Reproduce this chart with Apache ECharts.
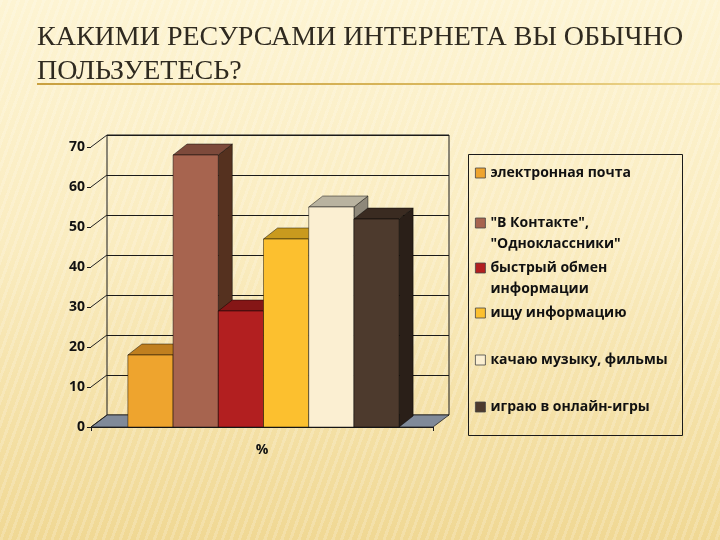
<!DOCTYPE html>
<html>
<head>
<meta charset="utf-8">
<script src="https://cdn.jsdelivr.net/npm/echarts@6/dist/echarts.min.js"></script>
<style>
  html, body { margin: 0; padding: 0; }
  body {
    width: 720px; height: 540px; overflow: hidden;
    background:
      repeating-linear-gradient(110deg, rgba(255,255,255,0.18) 0 3px, rgba(255,255,255,0) 3px 8px),
      linear-gradient(180deg, #fdf4d3 0%, #faecc0 45%, #f0d894 100%);
  }
  #chart { width: 720px; height: 540px; }
</style>
</head>
<body>
<div id="chart"></div>
<script>
const categories = ["%"];
const seriesNames = [
  "электронная почта",
  "\"В Контакте\",\n\"Одноклассники\"",
  "быстрый обмен\nинформации",
  "ищу информацию",
  "качаю музыку, фильмы",
  "играю в онлайн-игры",
];
const seriesValues = [18, 68, 29, 47, 55, 52];
const yTicks = [0, 10, 20, 30, 40, 50, 60, 70];

const frontColors = ["#eea42e", "#a7644f", "#b21f20", "#fcc02f", "#fbefd2", "#4d3a2d"];
const topColors = ["#c07f1f", "#7d4a3b", "#851616", "#c99a1e", "#b9b3a0", "#3a2b21"];
const sideColors = ["#9c6516", "#55311f", "#641010", "#a07a14", "#8e887a", "#2a1f18"];

// legend rows: center of the first text line
const legendRowY = [173, 223, 268, 313, 360, 407];

const DEPTH_X = 16, DEPTH_Y = -12;  // wall depth
const BAR_DX = 14, BAR_DY = -11;    // bar depth
const BAR_SHARE = 0.1322;
const LEGEND_LINE = 21;

const chart = echarts.init(document.getElementById("chart"));

function barRenderer(idx) {
  return function (params, api) {
    const base = api.coord([api.value(0), 0]);
    const top = api.coord([api.value(0), api.value(1)]);
    const band = api.size([1, 0])[0];
    const w = band * BAR_SHARE;
    const x0 = base[0] - (w * seriesValues.length) / 2 + idx * w + 1.5;
    const ty = top[1], by = base[1];
    const stroke = { stroke: "rgba(0,0,0,0.65)", lineWidth: 0.7 };
    return {
      type: "group",
      children: [
        {
          type: "polygon",
          shape: { points: [[x0 + w, ty], [x0 + w + BAR_DX, ty + BAR_DY], [x0 + w + BAR_DX, by + BAR_DY], [x0 + w, by]] },
          style: Object.assign({ fill: sideColors[idx] }, stroke),
        },
        {
          type: "polygon",
          shape: { points: [[x0, ty], [x0 + BAR_DX, ty + BAR_DY], [x0 + w + BAR_DX, ty + BAR_DY], [x0 + w, ty]] },
          style: Object.assign({ fill: topColors[idx] }, stroke),
        },
        {
          type: "rect",
          shape: { x: x0, y: ty, width: w, height: by - ty },
          style: Object.assign({ fill: frontColors[idx] }, stroke),
        },
      ],
    };
  };
}

function floorRenderer(params, api) {
  const cs = params.coordSys;
  const by = cs.y + cs.height;
  const left = cs.x, right = cs.x + cs.width;
  return {
    type: "polygon",
    shape: { points: [[left, by], [right, by], [right + DEPTH_X, by + DEPTH_Y], [left + DEPTH_X, by + DEPTH_Y]] },
    style: { fill: "#808a99", stroke: "#222", lineWidth: 0.8 },
  };
}

function slantTickRenderer(params, api) {
  const cs = params.coordSys;
  const p = api.coord([categories[0], api.value(0)]);
  return {
    type: "line",
    shape: { x1: cs.x, y1: p[1], x2: cs.x + DEPTH_X, y2: p[1] + DEPTH_Y },
    style: { stroke: "#222", lineWidth: 1 },
  };
}

const labelFont = { fontFamily: "Open Sans", fontWeight: "bold", fontSize: 14, color: "#111" };

const legends = seriesNames.map((name, i) => {
  const twoLine = name.indexOf("\n") >= 0;
  // item box is as tall as its text; two-line names get an empty first line
  const rows = twoLine ? 3 : 1;
  return {
    show: true,
    data: [name],
    orient: "vertical",
    left: 475,
    top: legendRowY[i] - (rows * LEGEND_LINE) / 2,
    padding: 0,
    icon: "rect",
    itemWidth: 10,
    itemHeight: 10,
    selectedMode: false,
    formatter: twoLine ? (n) => "\n" + n : "{name}",
    itemStyle: { borderColor: "#444", borderWidth: 0.8 },
    textStyle: Object.assign({}, labelFont, { lineHeight: LEGEND_LINE }),
  };
});

const series = [
  {
    type: "custom",
    name: "floor",
    xAxisIndex: 0, yAxisIndex: 0,
    renderItem: floorRenderer,
    data: [[categories[0], 0]],
    silent: true,
    z: 1,
  },
  {
    type: "custom",
    name: "ticks",
    xAxisIndex: 0, yAxisIndex: 0,
    renderItem: slantTickRenderer,
    data: yTicks.map((v) => [v]),
    encode: { y: 0 },
    silent: true,
    z: 1,
  },
];

seriesNames.forEach((name, i) => {
  series.push({
    type: "custom",
    name: name,
    xAxisIndex: 0, yAxisIndex: 0,
    renderItem: barRenderer(i),
    itemStyle: { color: frontColors[i] },
    data: [[categories[0], seriesValues[i]]],
    encode: { x: 0, y: 1 },
    z: 3,
  });
});

chart.setOption({
  backgroundColor: "transparent",
  animation: false,
  title: {
    text: "КАКИМИ РЕСУРСАМИ ИНТЕРНЕТА ВЫ ОБЫЧНО\nПОЛЬЗУЕТЕСЬ?",
    left: 37,
    top: 21,
    padding: 0,
    textStyle: {
      fontFamily: "Liberation Serif",
      fontWeight: "normal",
      fontSize: 28,
      lineHeight: 34,
      color: "#2f2a20",
    },
  },
  legend: legends,
  grid: [
    { left: 91, top: 147, width: 342, height: 280, containLabel: false },
    { left: 107, top: 135, width: 342, height: 280, show: true, borderColor: "#1a1a1a", borderWidth: 1, backgroundColor: "transparent" },
  ],
  xAxis: [
    {
      type: "category",
      gridIndex: 0,
      data: categories,
      axisLine: { show: true, lineStyle: { color: "#1a1a1a", width: 1 } },
      axisTick: { show: true, length: 4, lineStyle: { color: "#1a1a1a" } },
      axisLabel: Object.assign({ margin: 16 }, labelFont),
    },
    {
      type: "category",
      gridIndex: 1,
      data: categories,
      show: false,
    },
  ],
  yAxis: [
    {
      type: "value",
      gridIndex: 0,
      min: 0, max: 70, interval: 10,
      axisLine: { show: false },
      axisTick: { show: true, length: 4, lineStyle: { color: "#1a1a1a" } },
      splitLine: { show: false },
      axisLabel: Object.assign({ margin: 6 }, labelFont),
    },
    {
      type: "value",
      gridIndex: 1,
      min: 0, max: 70, interval: 10,
      axisLine: { show: false },
      axisTick: { show: false },
      axisLabel: { show: false },
      splitLine: { show: true, lineStyle: { color: "#1a1a1a", width: 1 } },
    },
  ],
  graphic: [
    {
      type: "line",
      shape: { x1: 37, y1: 84, x2: 720, y2: 84 },
      style: {
        lineWidth: 2,
        stroke: new echarts.graphic.LinearGradient(0, 0, 1, 0, [
          { offset: 0, color: "#c9a040" },
          { offset: 0.7, color: "#dcbb62" },
          { offset: 1, color: "#f3df9e" },
        ]),
      },
    },
    {
      type: "rect",
      shape: { x: 468.5, y: 154.5, width: 214, height: 281 },
      style: { fill: "transparent", stroke: "#1a1a1a", lineWidth: 1 },
    },
  ],
  series: series,
});
</script>
</body>
</html>
